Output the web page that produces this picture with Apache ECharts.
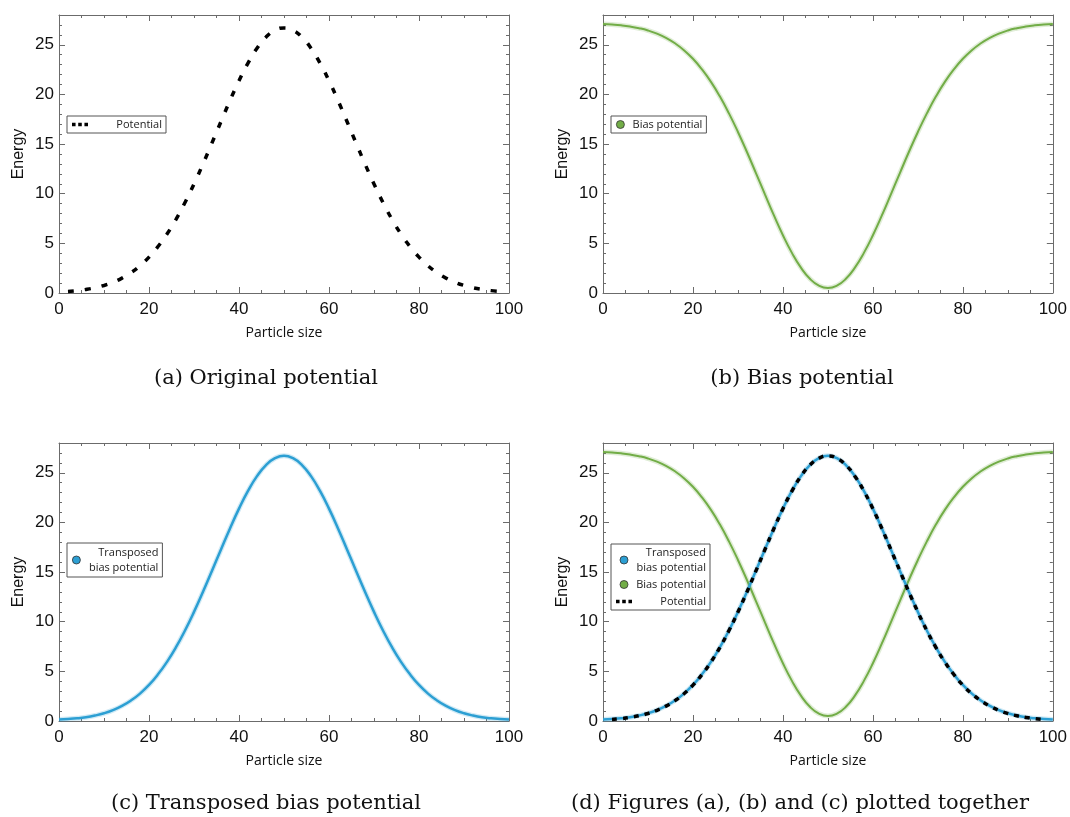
<!DOCTYPE html>
<html>
<head>
<meta charset="utf-8">
<script src="https://cdn.jsdelivr.net/npm/echarts@6/dist/echarts.min.js"></script>
<style>
html,body{margin:0;padding:0;background:#fff;}
#chart{width:1070px;height:817px;}
</style>
</head>
<body>
<div id="chart"></div>
<script>
// ---------- data ----------
const particleSize = [0,2,4,6,8,10,12,14,16,18,20,22,24,26,28,30,32,34,36,38,40,42,44,46,48,50,
  52,54,56,58,60,62,64,66,68,70,72,74,76,78,80,82,84,86,88,90,92,94,96,98,100];

const potential = [null,0.16,0.24,0.36,0.53,0.76,1.08,1.50,2.05,2.74,3.61,4.68,5.94,7.42,9.11,10.98,13.00,15.12,17.27,19.39,21.38,23.16,24.65,25.77,26.46,26.70,
  26.46,25.77,24.65,23.16,21.38,19.39,17.27,15.12,13.00,10.98,9.11,7.42,5.94,4.68,3.61,2.74,2.05,1.50,1.08,0.76,0.53,0.36,0.24,0.16,null];

const biasPotential = [27.10,27.04,26.96,26.84,26.67,26.44,26.12,25.70,25.15,24.46,23.59,22.52,21.26,19.78,18.09,16.22,14.20,12.08,9.93,7.81,5.82,4.04,2.55,1.43,0.74,0.50,
  0.74,1.43,2.55,4.04,5.82,7.81,9.93,12.08,14.20,16.22,18.09,19.78,21.26,22.52,23.59,24.46,25.15,25.70,26.12,26.44,26.67,26.84,26.96,27.04,27.10];

const transposedBias = [0.15,0.20,0.27,0.38,0.55,0.78,1.10,1.52,2.07,2.76,3.63,4.70,5.96,7.43,9.12,10.99,13.01,15.13,17.28,19.40,21.39,23.17,24.66,25.78,26.47,26.72,
  26.47,25.78,24.66,23.17,21.39,19.40,17.28,15.13,13.01,10.99,9.12,7.43,5.96,4.70,3.63,2.76,2.07,1.52,1.10,0.78,0.55,0.38,0.27,0.20,0.15];

const xTicksMajor = 20, xTicksMinor = 5;
const yTicksMajor = 5, yTicksMinor = 1;
const xRange = [0, 100];
const yRange = [0, 28];

const captions = [
  '(a) Original potential',
  '(b) Bias potential',
  '(c) Transposed bias potential',
  '(d) Figures (a), (b) and (c) plotted together'
];
const xName = 'Particle size';
const yName = 'Energy';

// ---------- layout ----------
const GREEN = '#72ad47';
const BLUE = '#2c9fd3';
const AXIS = '#6b6b6b';
const grids = [
  {left: 59, top: 15, width: 450, height: 278},
  {left: 603, top: 15, width: 450, height: 278},
  {left: 59, top: 443, width: 450, height: 278},
  {left: 603, top: 443, width: 450, height: 278}
];
const captionPos = [[266, 379], [802, 379], [266, 804], [800, 804]];

const pairs = vals => particleSize.map((x, i) => [x, vals[i]]);

const xAxes = [], yAxes = [];
grids.forEach((g, gi) => {
  const mk = (pos, interval, len, labels, line, extra) => Object.assign({
    type: 'value', gridIndex: gi, position: pos, min: xRange[0], max: xRange[1], interval: interval,
    axisLine: {show: line, onZero: false, lineStyle: {color: AXIS, width: 1}},
    axisTick: {show: true, inside: true, length: len, lineStyle: {color: AXIS, width: 1}},
    axisLabel: {show: labels, color: '#111', fontFamily: 'Liberation Sans', fontSize: 17, margin: 8},
    splitLine: {show: false}
  }, extra || {});
  xAxes.push(mk('bottom', xTicksMajor, 6, true, true, {
    name: xName, nameLocation: 'middle', nameGap: 33,
    nameTextStyle: {fontFamily: 'Open Sans', fontSize: 14, color: '#111'}
  }));
  xAxes.push(mk('bottom', xTicksMinor, 3, false, false));
  xAxes.push(mk('top', xTicksMajor, 6, false, true));
  xAxes.push(mk('top', xTicksMinor, 3, false, false));

  const mky = (pos, interval, len, labels, line, extra) => Object.assign({
    type: 'value', gridIndex: gi, position: pos, min: yRange[0], max: yRange[1], interval: interval,
    axisLine: {show: line, onZero: false, lineStyle: {color: AXIS, width: 1}},
    axisTick: {show: true, inside: true, length: len, lineStyle: {color: AXIS, width: 1}},
    axisLabel: {show: labels, color: '#111', fontFamily: 'Liberation Sans', fontSize: 17, margin: 5, showMaxLabel: false},
    splitLine: {show: false}
  }, extra || {});
  yAxes.push(mky('left', yTicksMajor, 6, true, true, {
    name: yName, nameLocation: 'middle', nameGap: 32,
    nameTextStyle: {fontFamily: 'Liberation Sans', fontSize: 16, color: '#111'}
  }));
  yAxes.push(mky('left', yTicksMinor, 3, false, false));
  yAxes.push(mky('right', yTicksMajor, 6, false, true));
  yAxes.push(mky('right', yTicksMinor, 3, false, false));
});

function lineSeries(name, gi, vals, color, width, extra) {
  return Object.assign({
    name: name, type: 'line', xAxisIndex: gi * 4, yAxisIndex: gi * 4,
    data: pairs(vals), smooth: true, symbol: 'none', showSymbol: false,
    lineStyle: {color: color, width: width}, itemStyle: {color: color},
    animation: false, silent: true
  }, extra || {});
}
const fuzz = (name, gi, vals, color) => lineSeries(name, gi, vals, color, 5, {lineStyle: {color: color, width: 5, opacity: 0.22}});

const series = [
  // (a)
  lineSeries('Potential', 0, potential, '#000', 3.5, {lineStyle: {color: '#000', width: 3.5, type: [6, 11]}}),
  // (b)
  fuzz('_bfuzz_b', 1, biasPotential, GREEN),
  lineSeries('Bias potential', 1, biasPotential, GREEN, 2),
  // (c)
  fuzz('_tfuzz_c', 2, transposedBias, BLUE),
  lineSeries('Transposed bias potential', 2, transposedBias, BLUE, 2.5),
  // (d)
  fuzz('_bfuzz_d', 3, biasPotential, GREEN),
  lineSeries('Bias potential', 3, biasPotential, GREEN, 2),
  fuzz('_tfuzz_d', 3, transposedBias, BLUE),
  lineSeries('Transposed bias potential', 3, transposedBias, BLUE, 2.5),
  lineSeries('Potential', 3, potential, '#000', 3.5, {lineStyle: {color: '#000', width: 3.5, type: [5, 6]}})
];

const dotsIcon = 'path://M0 0h4v4h-4zM7 0h4v4h-4zM14 0h4v4h-4z';
const circleItem = name => ({name: name, icon: 'circle', itemStyle: {borderColor: '#333', borderWidth: 0.8}});
const legendBase = {
  orient: 'vertical', selectedMode: false,
  backgroundColor: '#fff', borderColor: '#555', borderWidth: 1, borderRadius: 0,
  padding: [3, 4, 3, 5], itemWidth: 16, itemHeight: 8, itemGap: 6,
  formatter: name => name === 'Transposed bias potential' ? '{r|Transposed}\n{r|bias potential}' : '{r|' + name + '}',
  textStyle: {fontFamily: 'Open Sans', fontSize: 11, color: '#222',
    rich: {r: {width: 69, align: 'right', fontFamily: 'Open Sans', fontSize: 11, lineHeight: 15, color: '#222'}}}
};
const legends = [
  Object.assign({}, legendBase, {left: 67, top: 116, data: [{name: 'Potential', icon: dotsIcon}]}),
  Object.assign({}, legendBase, {left: 611, top: 116, data: [circleItem('Bias potential')]}),
  Object.assign({}, legendBase, {left: 67, top: 543, padding: [4, 4, 4, 5], data: [circleItem('Transposed bias potential')]}),
  Object.assign({}, legendBase, {left: 611, top: 544, data: [circleItem('Transposed bias potential'), circleItem('Bias potential'), {name: 'Potential', icon: dotsIcon}]})
];

const graphics = captions.map((t, i) => ({
  type: 'text', x: captionPos[i][0], y: captionPos[i][1],
  style: {text: t, fill: '#111', font: '21px "DejaVu Serif"', textAlign: 'center', textVerticalAlign: 'middle'}
}));

const chart = echarts.init(document.getElementById('chart'), null, {renderer: 'canvas'});
chart.setOption({
  animation: false,
  backgroundColor: '#fff',
  grid: grids,
  xAxis: xAxes,
  yAxis: yAxes,
  legend: legends,
  series: series,
  graphic: graphics
});
</script>
</body>
</html>
